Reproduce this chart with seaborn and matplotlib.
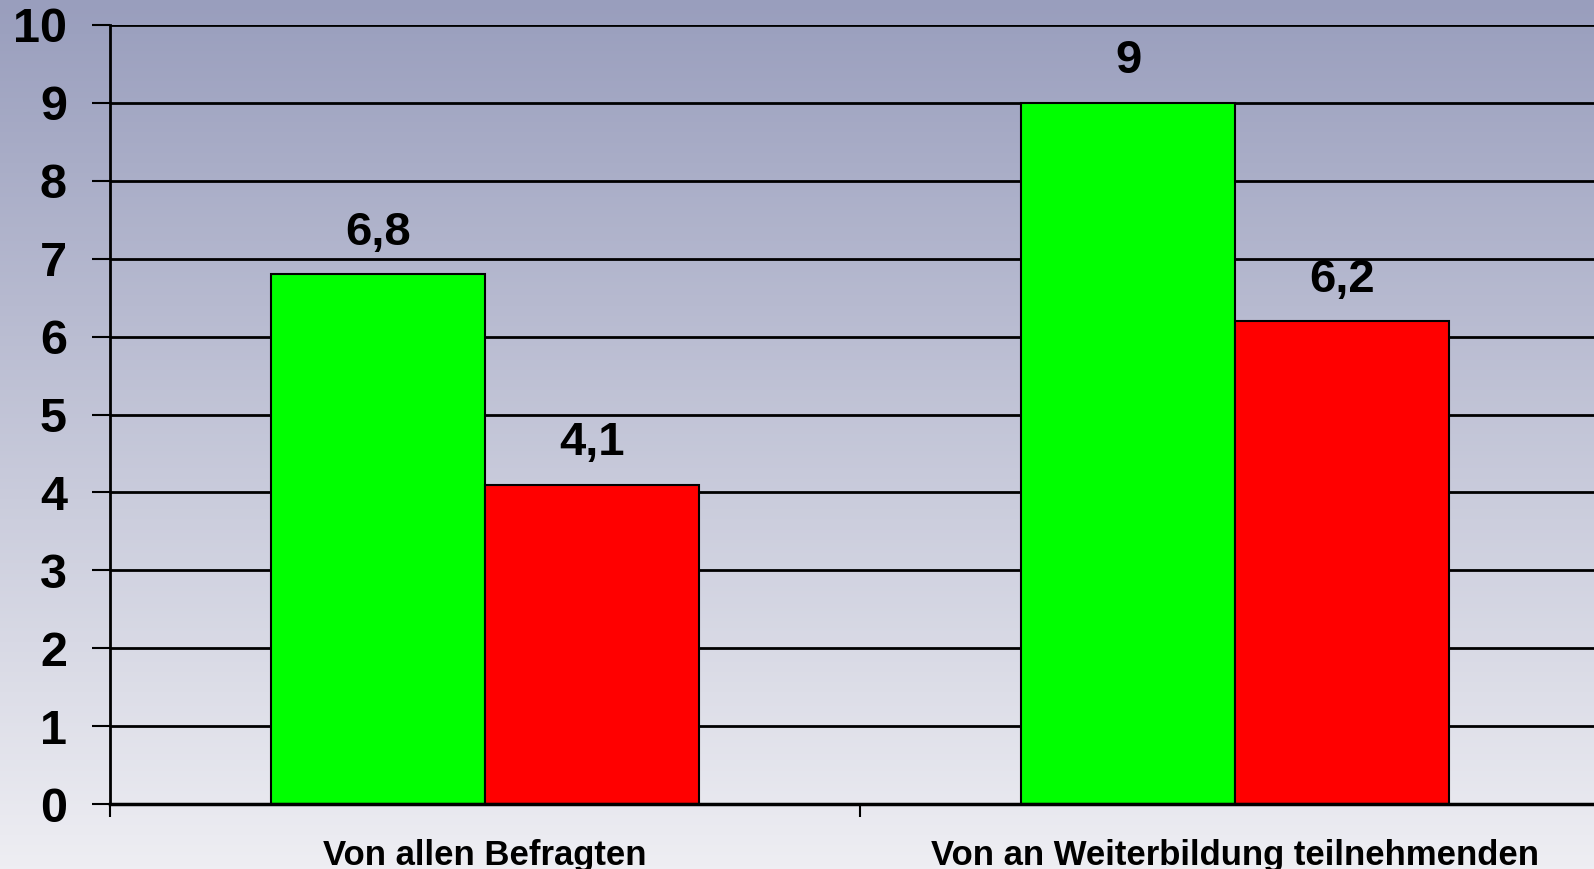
import numpy as np
import pandas as pd
import matplotlib
matplotlib.use("Agg")
import matplotlib.pyplot as plt
import seaborn as sns
from matplotlib.colors import LinearSegmentedColormap

# Daten
categories = ["Von allen Befragten", "Von an Weiterbildung teilnehmenden"]
series = ["Serie 1", "Serie 2"]
values_1 = [6.8, 9.0]
values_2 = [4.1, 6.2]
labels_1 = ["6,8", "9"]
labels_2 = ["4,1", "6,2"]
y_ticks = list(range(0, 11))

df = pd.DataFrame({
    "Kategorie": categories * 2,
    "Serie": [series[0]] * len(categories) + [series[1]] * len(categories),
    "Wert": values_1 + values_2,
})

sns.set_style("white")
plt.rcParams["font.family"] = ["Liberation Sans", "DejaVu Sans"]
plt.rcParams["font.weight"] = "bold"
plt.rcParams["text.color"] = "black"
plt.rcParams["xtick.color"] = "black"
plt.rcParams["ytick.color"] = "black"

fig = plt.figure(figsize=(15.94, 8.69), dpi=100)

# Hintergrund mit Farbverlauf
bg = fig.add_axes([0, 0, 1, 1])
grad = np.linspace(0, 1, 256).reshape(-1, 1)
cmap_bg = LinearSegmentedColormap.from_list("bg", ["#999ebd", "#eeeef3"])
bg.imshow(grad, aspect="auto", cmap=cmap_bg, extent=[0, 1, 0, 1], origin="upper")
bg.axis("off")

ax = fig.add_axes([110 / 1594, 65 / 869, 1500 / 1594, 779 / 869])
ax.patch.set_alpha(0)

sns.barplot(data=df, x="Kategorie", y="Wert", hue="Serie",
            palette=["#00ff00", "#ff0000"], width=0.57, saturation=1,
            edgecolor="black", linewidth=1.5, legend=False, ax=ax)

ax.bar_label(ax.containers[0], labels=labels_1, padding=14, fontsize=34,
             fontweight="bold", color="black")
ax.bar_label(ax.containers[1], labels=labels_2, padding=14, fontsize=34,
             fontweight="bold", color="black")

ax.set_xlim(-0.5, 1.5)
ax.set_ylim(0, 10)
ax.set_yticks(y_ticks)
ax.set_yticklabels([str(t) for t in y_ticks], fontsize=35, fontweight="bold")
ax.yaxis.grid(True, color="black", linewidth=2)
ax.set_axisbelow(True)

ax.set_xticks(range(len(categories)))
ax.set_xticklabels(categories, fontsize=25, fontweight="bold")
ax.set_xticks([-0.5, 0.5, 1.5], minor=True)
ax.tick_params(axis="x", which="major", bottom=True, length=0, pad=25)
ax.tick_params(axis="x", which="minor", bottom=True, length=9, width=1.5,
               color="black", direction="out")
ax.tick_params(axis="y", left=True, length=13, width=1.5, color="black",
               direction="out", pad=18)

for side in ["top", "right"]:
    ax.spines[side].set_visible(False)
ax.spines["left"].set_color("black")
ax.spines["left"].set_linewidth(2)
ax.spines["bottom"].set_color("black")
ax.spines["bottom"].set_linewidth(2.5)

ax.set_xlabel("")
ax.set_ylabel("")

fig.savefig("out.png", dpi=100)
